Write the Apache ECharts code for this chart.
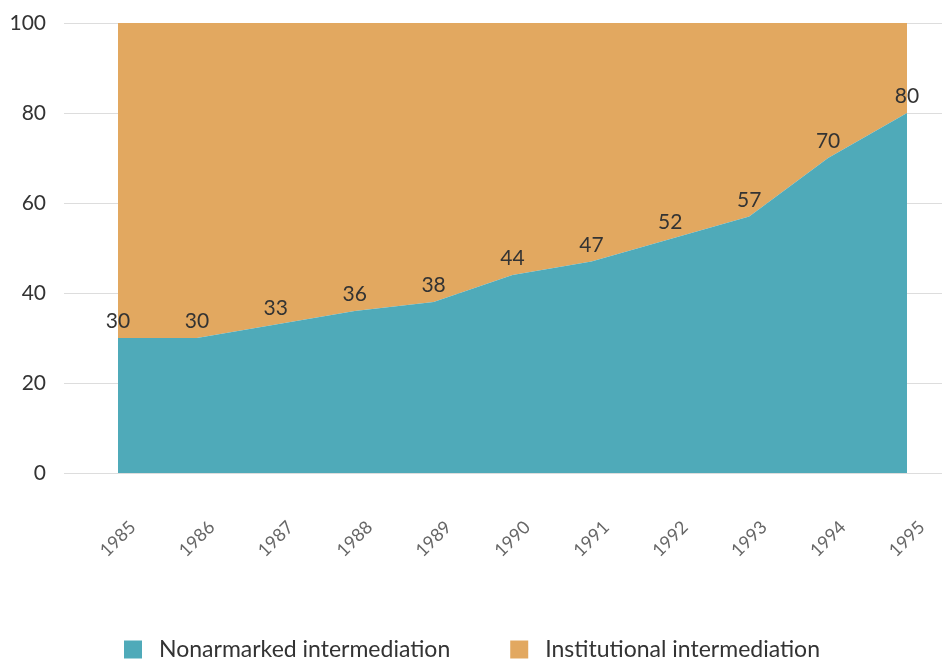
<!DOCTYPE html>
<html>
<head>
<meta charset="utf-8">
<script src="https://cdn.jsdelivr.net/npm/echarts@6/dist/echarts.min.js"></script>
<style>
  html, body { margin: 0; padding: 0; background: #fff; }
  #chart { width: 944px; height: 660px; }
</style>
</head>
<body>
<div id="chart"></div>
<script>
// chart data
const years = ['1985', '1986', '1987', '1988', '1989', '1990', '1991', '1992', '1993', '1994', '1995'];
const nonearmarked = [30, 30, 33, 36, 38, 44, 47, 52, 57, 70, 80];
const institutional = [70, 70, 67, 64, 62, 56, 53, 48, 43, 30, 20];
const seriesNames = ['Nonarmarked intermediation', 'Institutional intermediation'];

const FONT = 'Lato';
const TEAL = '#4faab9';
const ORANGE = '#e2a860';

const chart = echarts.init(document.getElementById('chart'));

const option = {
  animation: false,
  textStyle: { fontFamily: FONT },
  color: [TEAL, ORANGE],
  legend: {
    top: 633,
    left: 'center',
    itemWidth: 18,
    itemHeight: 18,
    itemGap: 60,
    icon: 'rect',
    textStyle: { fontSize: 23, color: '#333', fontFamily: FONT, padding: [0, 0, 0, 12] },
    data: seriesNames
  },
  // grid 0 holds the areas, grid 1 only draws the y labels and gridlines
  grid: [
    { left: 118, right: 37, top: 23, bottom: 187 },
    { left: 64, right: 2, top: 23, bottom: 187 }
  ],
  xAxis: [
    {
      type: 'category',
      gridIndex: 0,
      data: years,
      boundaryGap: false,
      axisLine: { show: false },
      axisTick: { show: false },
      axisLabel: {
        rotate: 45, fontSize: 18, color: '#666', margin: 66,
        align: 'center', verticalAlign: 'middle', fontFamily: FONT
      }
    },
    { type: 'value', gridIndex: 1, show: false }
  ],
  yAxis: [
    {
      type: 'value',
      gridIndex: 0,
      min: 0,
      max: 100,
      interval: 20,
      show: false,
      splitLine: { show: false }
    },
    {
      type: 'value',
      gridIndex: 1,
      min: 0,
      max: 100,
      interval: 20,
      axisLine: { show: false },
      axisTick: { show: false },
      axisLabel: { fontSize: 21, color: '#333', margin: 18, fontFamily: FONT },
      splitLine: { lineStyle: { color: '#dddddd', width: 1 } }
    }
  ],
  series: [
    {
      name: seriesNames[0],
      type: 'line',
      stack: 'total',
      xAxisIndex: 0,
      yAxisIndex: 0,
      data: nonearmarked,
      symbol: 'circle',
      symbolSize: 0,
      lineStyle: { width: 0 },
      areaStyle: { color: TEAL, opacity: 1 },
      label: { show: true, position: 'top', fontSize: 21, color: '#333', distance: 6, fontFamily: FONT },
      z: 3
    },
    {
      name: seriesNames[1],
      type: 'line',
      stack: 'total',
      xAxisIndex: 0,
      yAxisIndex: 0,
      data: institutional,
      symbol: 'none',
      lineStyle: { width: 0 },
      areaStyle: { color: ORANGE, opacity: 1 },
      z: 2
    }
  ]
};

chart.setOption(option);
</script>
</body>
</html>
